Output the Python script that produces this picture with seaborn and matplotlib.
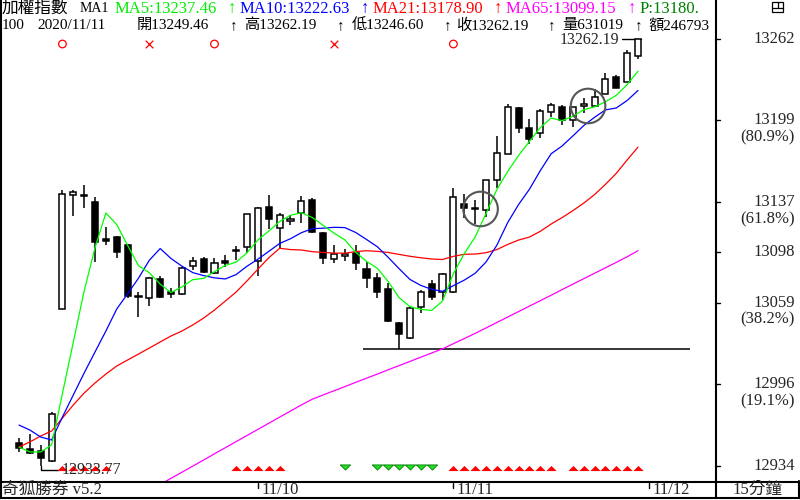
import numpy as np
import pandas as pd
import matplotlib
matplotlib.use("Agg")
import matplotlib.pyplot as plt
import matplotlib.transforms as mtransforms
from matplotlib.lines import Line2D
from matplotlib.patches import Rectangle
import seaborn as sns

sns.set_style("white")
plt.rcParams['font.family'] = ['Liberation Serif', 'Noto Sans CJK TC', 'DejaVu Sans']

# 加權指數 15分鐘 K線
opens = [12951.1, 12946.5, 12944.9, 12937.2, 13054.3, 13142.0, 13141.3, 13136.7, 13107.4, 13109.7,
         13103.6, 13063.5, 13062.7, 13077.4, 13067.4, 13065.8, 13087.4, 13092.8, 13082.0, 13091.2,
         13098.9, 13102.0, 13091.2, 13132.8, 13116.6, 13122.0, 13128.2, 13138.2, 13112.8, 13092.8,
         13095.1, 13097.4, 13085.1, 13078.1, 13069.7, 13043.5, 13032.0, 13055.8, 13073.5, 13067.4,
         13067.4, 13135.1, 13131.3, 13130.5, 13153.6, 13173.6, 13209.0, 13193.6, 13189.8, 13206.0,
         13209.8, 13199.8, 13210.6, 13210.6, 13219.8, 13232.9, 13229.1, 13249.46]
highs = [12954.9, 12958.0, 12949.6, 12975.0, 13145.9, 13145.9, 13149.8, 13140.5, 13117.4, 13110.5,
         13104.3, 13067.4, 13078.9, 13079.7, 13070.4, 13086.6, 13094.3, 13094.3, 13093.5, 13095.9,
         13102.8, 13127.4, 13132.8, 13142.0, 13128.2, 13126.7, 13141.3, 13139.8, 13113.6, 13103.6,
         13100.5, 13103.6, 13090.5, 13082.0, 13074.3, 13044.3, 13056.6, 13068.9, 13076.6, 13082.0,
         13147.4, 13142.8, 13138.2, 13153.6, 13187.5, 13212.1, 13209.8, 13200.6, 13208.3, 13212.9,
         13211.4, 13209.8, 13216.7, 13223.7, 13236.0, 13234.4, 13253.7, 13262.19]
lows = [12944.2, 12942.6, 12933.77, 12936.5, 13054.3, 13125.9, 13132.0, 13090.5, 13103.6, 13093.5,
        13062.7, 13048.1, 13056.6, 13062.7, 13062.7, 13065.0, 13084.3, 13082.0, 13081.2, 13086.6,
        13092.0, 13097.4, 13079.7, 13115.9, 13101.2, 13119.0, 13120.5, 13112.8, 13088.9, 13089.7,
        13091.2, 13084.3, 13070.4, 13062.7, 13044.3, 13023.5, 13031.2, 13051.2, 13061.2, 13061.2,
        13066.6, 13124.3, 13119.7, 13125.1, 13147.4, 13173.6, 13189.8, 13181.3, 13186.0, 13202.1,
        13196.0, 13194.4, 13205.2, 13210.6, 13219.8, 13224.4, 13229.1, 13246.60]
closes = [12947.2, 12943.4, 12939.5, 12973.4, 13142.8, 13144.4, 13141.0, 13105.9, 13107.0, 13098.2,
          13064.3, 13063.2, 13078.1, 13063.5, 13065.8, 13085.8, 13091.2, 13082.8, 13089.7, 13089.7,
          13098.6, 13127.4, 13132.0, 13123.6, 13126.7, 13122.3, 13137.5, 13113.6, 13093.5, 13096.6,
          13096.6, 13089.7, 13078.1, 13067.4, 13045.0, 13035.0, 13055.0, 13067.4, 13063.5, 13081.2,
          13140.5, 13132.0, 13131.0, 13153.6, 13174.4, 13209.8, 13193.6, 13185.2, 13206.7, 13211.4,
          13199.8, 13209.8, 13210.9, 13217.5, 13231.4, 13224.4, 13251.4, 13262.19]

# first points of the averages (they need bars from before the screen)
ma5_head = [12948.0, 12944.2, 12944.2, 12949.6]
ma10_head = [12964.9, 12961.1, 12955.7, 12953.4, 12971.1, 12988.1, 13005.0, 13021.2, 13037.3]
ma21_head = [12948.0, 12951.9, 12956.5, 12960.3, 12970.3, 12980.4, 12989.6, 12997.3, 13004.2, 13010.4,
             13015.0, 13019.6, 13024.2, 13028.9, 13033.5, 13037.3, 13042.0, 13047.3, 13053.5, 13060.4]
ma65 = [None] * 13 + [
    12919.2, 12923.9, 12928.6, 12933.3, 12938.0, 12942.8, 12947.5, 12952.2, 12956.9, 12961.6,
    12966.3, 12971.0, 12975.7, 12980.4, 12984.8, 12988.1, 12991.3, 12994.5, 12997.8, 13001.0,
    13004.2, 13007.5, 13010.7, 13013.9, 13017.2, 13020.4, 13023.6, 13027.6, 13031.5, 13035.5,
    13039.7, 13043.9, 13048.1, 13052.3, 13056.5, 13060.7, 13064.9, 13069.2, 13073.4, 13077.6,
    13081.8, 13086.0, 13090.2, 13094.5, 13099.15]

buy_bars = [4, 5, 6, 7, 8, 20, 21, 22, 23, 24] + list(range(40, 50)) + list(range(51, 58))
sell_bars = [30, 33, 34, 35, 36, 37, 38]
circle_bars = [4, 18, 40]
cross_bars = [12, 29]
ring_bars = [42.5, 52.4]
ring_values = [13131.3, 13210.6]
fib_levels = [0, 0.191, 0.382, 0.5, 0.618, 0.809, 1]
date_labels = ['11/10', '11/11', '11/12']
date_bars = [22, 40, 58]

header1 = [("加權指數", 2, 'black', 12), ("MA1", 80, 'black', 10),
           ("MA5:13237.46", 115, '#00ee00', 12), ("MA10:13222.63", 240, '#0000ff', 12),
           ("MA21:13178.90", 373, '#ff0000', 12), ("MA65:13099.15", 506, '#ff00ff', 12),
           ("P:13180.", 640, '#008000', 12)]
arrows1 = [(232, '#00ee00'), (365, '#0000ff'), (498, '#ff0000'), (632, '#ff00ff')]
header2 = [("100", 2), ("2020/11/11", 37), ("開13249.46", 137), ("高13262.19", 244),
           ("低13246.60", 352), ("收13262.19", 456), ("量631019", 562), ("額246793", 648)]
arrows2 = [234, 341, 448, 552, 639]

W, H = 800, 500
fig = plt.figure(figsize=(8, 5), dpi=100)
ax = fig.add_axes([0, 19 / H, 715 / W, 481 / H])
px = mtransforms.Affine2D().scale(1 / W, -1 / H).translate(0, 1) + fig.transFigure

idx = np.arange(len(closes))
o, h, l, c = (np.array(v, dtype=float) for v in (opens, highs, lows, closes))
lo, hi = l.min(), h.max()
scale = (hi - lo) / (465.5 - 39)
step = 10.86
ax.set_ylim(lo - (481 - 465.5) * scale, hi + 39 * scale)
ax.set_xlim(-19 / step, (715 - 19) / step)
ax.set_xticks([])
ax.set_yticks([])
for sp in ax.spines.values():
    sp.set_visible(False)

# candles
ax.vlines(idx, l, h, color='black', lw=1.1, zorder=2)
up = c >= o
body_lo = np.minimum(o, c)
body_h = np.maximum(np.abs(c - o), 1.6 * scale)
ax.bar(idx[up], body_h[up], bottom=body_lo[up], width=0.56, color='white',
       edgecolor='black', lw=1.1, zorder=3)
ax.bar(idx[~up], body_h[~up], bottom=body_lo[~up], width=0.56, color='black',
       edgecolor='black', lw=1.1, zorder=3)

# moving averages
s = pd.Series(c)
ma5 = s.rolling(5).mean()
ma5.iloc[:len(ma5_head)] = ma5_head
ma10 = s.rolling(10).mean()
ma10.iloc[:len(ma10_head)] = ma10_head
ma21 = s.rolling(21).mean()
ma21.iloc[:len(ma21_head)] = ma21_head
df = pd.DataFrame({'bar': idx, 'MA5': ma5, 'MA10': ma10, 'MA21': ma21,
                   'MA65': pd.to_numeric(pd.Series(ma65), errors='coerce')})
for col, color in [('MA65', '#ff00ff'), ('MA21', '#ff0000'), ('MA10', '#0000ff'), ('MA5', '#00ff00')]:
    sub = df.dropna(subset=[col])
    sns.lineplot(data=sub, x='bar', y=col, color=color, lw=0.9, ax=ax, legend=False, zorder=4)
ax.set_xlabel('')
ax.set_ylabel('')

# lowest low line & labels
low_i = int(np.argmin(l[22:])) + 22
ax.hlines(l[low_i], low_i - 3.3, low_i + 26.8, color='black', lw=1.1, zorder=2)
hi_i = int(np.argmax(h))
ax.plot([hi_i - 1.5, hi_i + 0.25], [h[hi_i], h[hi_i]], color='black', lw=1.0, zorder=2)
ax.text(hi_i - 1.75, h[hi_i] - 1.0 * scale, f"{hi:.2f}", ha='right', va='center', fontsize=11.5, zorder=5)
lo_i = int(np.argmin(l))
ax.plot([lo_i, lo_i, lo_i + 1.6], [l[lo_i], l[lo_i] - 4.5 * scale, l[lo_i] - 4.5 * scale],
        color='black', lw=1.0, zorder=2)
ax.text(lo_i + 1.9, l[lo_i] - 5 * scale, f"{lo:.2f}", ha='left', va='center', fontsize=11.5, zorder=6)

# circled spots
ax.scatter(ring_bars, ring_values, s=620, facecolors='none', edgecolors='#555555',
           linewidths=1.5, zorder=5)

# signal rows
xa = ax.get_xaxis_transform()
tri_up = [(-1, -0.5), (1, -0.5), (0, 0.5), (-1, -0.5)]
tri_dn = [(-1, 0.5), (1, 0.5), (0, -0.5), (-1, 0.5)]
ax.scatter(buy_bars, [1 - 468 / 481] * len(buy_bars), marker=tri_up, s=55, color='#ff0000',
           transform=xa, zorder=5, linewidths=0)
ax.scatter(sell_bars, [1 - 467 / 481] * len(sell_bars), marker=tri_dn, s=55, color='#22dd22',
           edgecolors='#008000', linewidths=0.6, transform=xa, zorder=5)
ax.scatter(circle_bars, [1 - 44 / 481] * len(circle_bars), marker='o', s=30, facecolors='none',
           edgecolors='#ff0000', linewidths=0.9, transform=xa, zorder=5)
ax.scatter(cross_bars, [1 - 44 / 481] * len(cross_bars), marker='x', s=30, color='#ff0000',
           linewidths=0.9, transform=xa, zorder=5)

# header text
for txt, x, col, fs in header1:
    ax.text(x, 9, txt, transform=px, color=col, ha='left', va='center', fontsize=fs,
            clip_on=True, zorder=6)
for x, col in arrows1:
    ax.text(x, 9, "↑", transform=px, color=col, ha='center', va='center', fontsize=12,
            fontweight='bold', clip_on=True, zorder=6)
for txt, x in header2:
    ax.text(x, 25.5, txt, transform=px, color='black', ha='left', va='center', fontsize=11,
            clip_on=True, zorder=6)
for x in arrows2:
    ax.text(x, 25.5, "↑", transform=px, color='black', ha='center', va='center', fontsize=11,
            fontweight='bold', clip_on=True, zorder=6)

# right price scale
ry = mtransforms.blended_transform_factory(px, ax.transData)
ry_low = mtransforms.offset_copy(ry, fig=fig, y=-17, units='dots')
for f in fib_levels:
    v = lo + f * (hi - lo)
    fig.add_artist(Line2D([715, 720], [v, v], transform=ry, color='black', lw=1.0))
    fig.text(795, v, f"{v:.0f}", transform=ry, ha='right', va='center', fontsize=12)
    if f not in (0, 0.5, 1):
        fig.text(795, v, f"({f * 100:.1f}%)", transform=ry_low, ha='right', va='center', fontsize=12)

# date axis
bx = mtransforms.blended_transform_factory(ax.transData, px)
for b, lab in zip(date_bars, date_labels):
    fig.add_artist(Line2D([b, b], [483, 488], transform=bx, color='black', lw=1.0))
    fig.text(b + 0.3, 490, lab, transform=bx, ha='left', va='center', fontsize=12)
fig.text(2, 490, "奇狐勝券 v5.2", transform=px, ha='left', va='center', fontsize=12)
fig.text(757, 490, "15分鐘", transform=px, ha='center', va='center', fontsize=12)

# frame
for xs, ys in [([1, 1], [0, 498]), ([0, 800], [481.5, 481.5]), ([715.5, 715.5], [0, 498]),
               ([0, 800], [497.5, 497.5]), ([798.5, 798.5], [481, 498])]:
    fig.add_artist(Line2D(xs, ys, transform=px, color='black', lw=1.5))
fig.add_artist(Rectangle((772, 2), 11, 10, transform=px, fill=False, ec='black', lw=0.9))
fig.add_artist(Line2D([772, 783], [7.5, 7.5], transform=px, color='black', lw=0.9))
fig.add_artist(Line2D([777.5, 777.5], [2, 7.5], transform=px, color='black', lw=0.9))

fig.savefig("out.png", dpi=100, facecolor='white')
